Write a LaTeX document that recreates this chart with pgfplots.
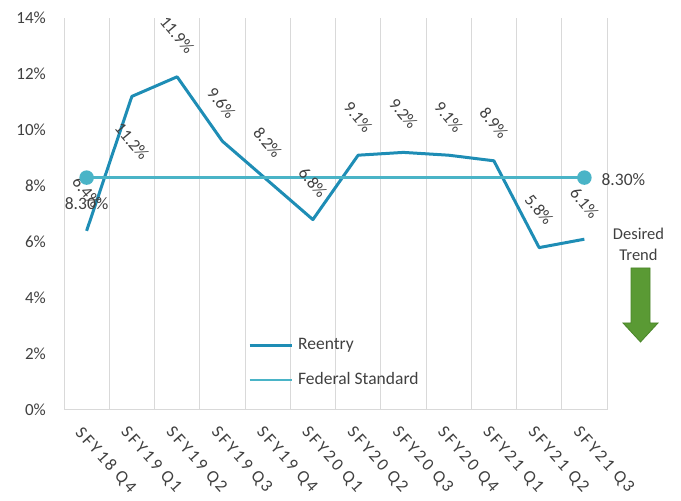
\documentclass[border=0pt]{standalone}
\usepackage{fontspec}
\setmainfont{Carlito}
\newfontfamily\spaced[LetterSpace=14]{Carlito}
\usepackage{pgfplots}
\pgfplotsset{compat=1.18}
\usepackage{pgfplotstable}
\definecolor{reentry}{HTML}{1E8DB5}
\definecolor{fedstd}{HTML}{4AB4C7}
\definecolor{txt}{HTML}{404040}
\definecolor{gridc}{HTML}{D9D9D9}
\definecolor{arrowg}{HTML}{5A9A34}
\definecolor{arrowd}{HTML}{4A8529}

\pgfplotstableread{
x y dx dy
0 6.4 0 39
1 11.2 0 -45
2 11.9 0 42
3 9.6 -1 38
4 8.2 0 38
5 6.8 0 37
6 9.1 0 38
7 9.2 0 39
8 9.1 0 38
9 8.9 0 38
10 5.8 0 38
11 6.1 0 36
}\reentrydata

\pgfplotstableread{
x y dx dy
0 8.3 0 -26
11 8.3 39 -2
}\feddata

\begin{document}
\begin{tikzpicture}[x=1pt,y=1pt]
\useasboundingbox (0,0) rectangle (681,501);
\begin{axis}[
  at={(64pt,91pt)}, anchor=south west,
  scale only axis, width=543pt, height=392pt,
  xmin=-0.5, xmax=11.5, ymin=0, ymax=14,
  clip=false,
  axis x line*=bottom, axis y line*=left,
  x axis line style={draw=gridc, line width=1pt},
  y axis line style={draw=none},
  xtick={0,...,11},
  xticklabels={SFY18 Q4,SFY19 Q1,SFY19 Q2,SFY19 Q3,SFY19 Q4,SFY20 Q1,SFY20 Q2,SFY20 Q3,SFY20 Q4,SFY21 Q1,SFY21 Q2,SFY21 Q3},
  minor xtick={-0.5,0.5,...,11.5},
  xminorgrids, minor grid style={draw=gridc, line width=0.8pt},
  major tick length=0pt, minor tick length=0pt,
  ytick={0,2,...,14},
  yticklabels={0\%,2\%,4\%,6\%,8\%,10\%,12\%,14\%},
  yticklabel style={font=\fontsize{17}{17}\selectfont, text=txt, anchor=east, inner sep=0pt, xshift=-18pt},
  xticklabel style={font=\spaced\fontsize{17.5}{17.5}\selectfont, text=txt, inner sep=0pt, xshift=-3pt, yshift=-15pt, rotate=-48, anchor=north west},
  legend cell align=left,
  legend style={draw=none, fill=none, font=\fontsize{17.5}{17.5}\selectfont, text=txt,
    at={(axis cs:3.566,1.696)}, anchor=west, inner sep=0pt, row sep=19pt, column sep=5pt,
    nodes={inner sep=0pt, text height=12pt, text depth=4pt}},
]
\addplot[reentry, line width=3pt, mark=none, line join=round,
  legend image code/.code={\draw[reentry, line width=3pt] (0pt,0pt) -- (42pt,0pt);},
  visualization depends on={\thisrow{dx}\as\mydx},
  visualization depends on={\thisrow{dy}\as\mydy},
  nodes near coords={\pgfmathprintnumber[fixed,fixed zerofill,precision=1,assume math mode=true]{\pgfplotspointmeta}\%},
  every node near coord/.append style={xshift=\mydx, yshift=\mydy, rotate=-50, anchor=center, inner sep=0pt, text=txt, font=\fontsize{17}{17}\selectfont}
] table[x=x, y=y, meta=y] {\reentrydata};
\addlegendentry{Reentry}
\addplot[fedstd, line width=2.5pt, mark=*, mark size=6pt,
  mark options={solid, fill=fedstd, draw=none},
  legend image code/.code={\draw[fedstd, line width=2.5pt] (0pt,0pt) -- (42pt,0pt);},
  visualization depends on={\thisrow{dx}\as\mydx},
  visualization depends on={\thisrow{dy}\as\mydy},
  nodes near coords={\pgfmathprintnumber[fixed,fixed zerofill,precision=2,assume math mode=true]{\pgfplotspointmeta}\%},
  every node near coord/.append style={xshift=\mydx, yshift=\mydy, anchor=center, inner sep=0pt, text=txt, font=\fontsize{17.5}{17.5}\selectfont}
] table[x=x, y=y, meta=y] {\feddata};
\addlegendentry{Federal Standard}
\end{axis}
\node[text=txt, font=\fontsize{16.5}{21}\selectfont, align=center] at (638.5,256.5) {Desired\\Trend};
\filldraw[fill=arrowg, draw=arrowd, line width=0.8pt] (631,233) -- (650,233) -- (650,178) -- (658,178) -- (640.5,159) -- (623,178) -- (631,178) -- cycle;
\end{tikzpicture}
\end{document}
